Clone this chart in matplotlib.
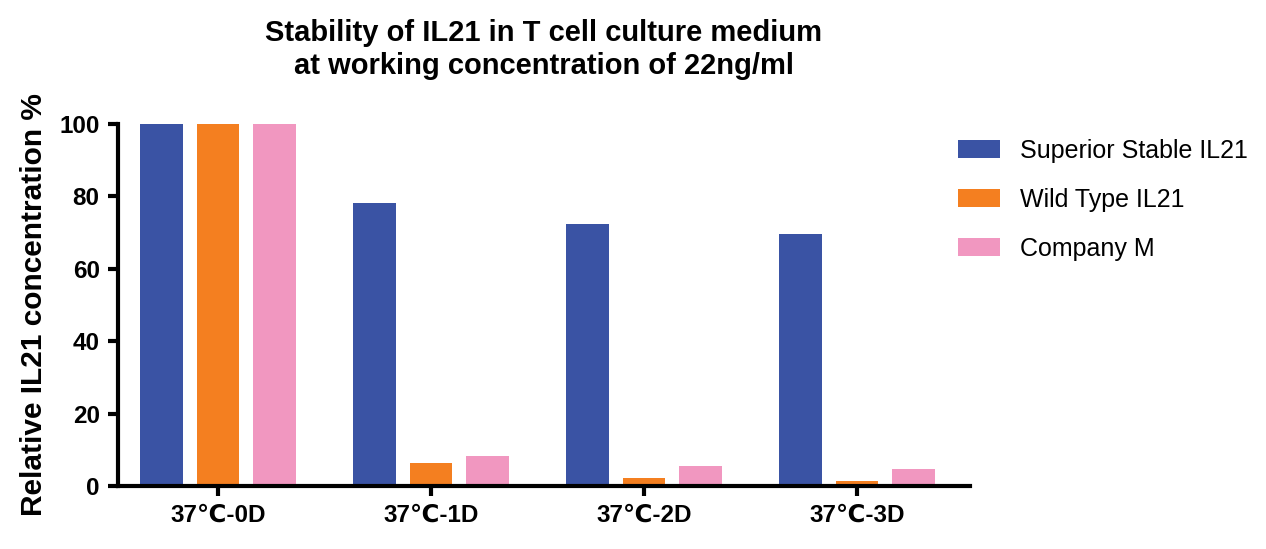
import numpy as np
import matplotlib
matplotlib.use("Agg")
import matplotlib.pyplot as plt

plt.rcParams['font.family'] = ['Liberation Sans', 'DejaVu Sans']

categories = ['37\u2103-0D', '37\u2103-1D', '37\u2103-2D', '37\u2103-3D']
series_names = ['Superior Stable IL21', 'Wild Type IL21', 'Company M']
superior = [100, 78.2, 72.4, 69.6]
wild_type = [100, 6.3, 2.2, 1.4]
company_m = [100, 8.3, 5.6, 4.6]
colors = ['#3A53A4', '#F47F20', '#F197C0']

fig = plt.figure(figsize=(12.66, 5.49), dpi=100)
ax = fig.add_axes([0.093, 0.115, 0.673, 0.659])

x = np.arange(len(categories))
width = 0.2
offset = 0.265
for i, (vals, name) in enumerate(zip([superior, wild_type, company_m], series_names)):
    ax.bar(x + (i - 1) * offset, vals, width, color=colors[i], label=name)

ax.set_xlim(-0.47, 3.53)
ax.set_ylim(0, 100)
ax.set_yticks([0, 20, 40, 60, 80, 100])
ax.set_xticks(x)
ax.set_xticklabels(categories)

for side in ['top', 'right']:
    ax.spines[side].set_visible(False)
for side in ['left', 'bottom']:
    ax.spines[side].set_linewidth(3)
ax.tick_params(width=3, length=7, labelsize=17.5, pad=6)
for lbl in ax.get_xticklabels() + ax.get_yticklabels():
    lbl.set_fontweight('bold')

ax.set_ylabel('Relative IL21 concentration %', fontsize=21.5, fontweight='bold', labelpad=8)
ax.set_title('Stability of IL21 in T cell culture medium\nat working concentration of 22ng/ml',
             fontsize=21, fontweight='bold', pad=36, linespacing=1.25)

ax.legend(loc='upper left', bbox_to_anchor=(0.986, 0.96), frameon=False, fontsize=18,
          handlelength=1.7, handleheight=0.7, labelspacing=1.0, handletextpad=0.8,
          borderpad=0, borderaxespad=0)

fig.savefig('out.png', dpi=100)
